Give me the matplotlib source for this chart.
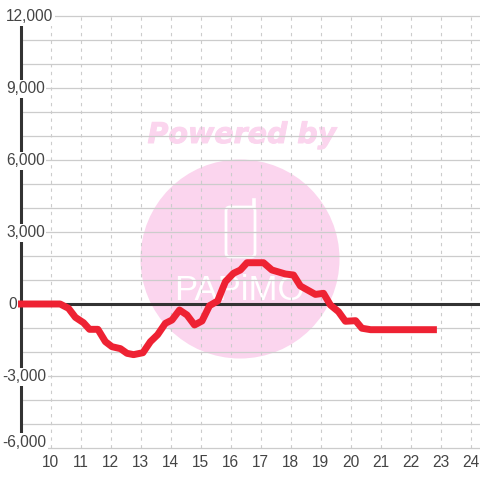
import numpy as np
import matplotlib
matplotlib.use('Agg')
import matplotlib.pyplot as plt
import matplotlib.patheffects as pe
from matplotlib.patches import Circle, FancyBboxPatch
from matplotlib.lines import Line2D
from matplotlib.transforms import blended_transform_factory

plt.rcParams['font.family'] = ['Liberation Sans', 'DejaVu Sans']

# Data
#._____________________

hours = [8.9, 10.32, 10.6, 10.83, 11.1, 11.3, 11.58, 11.83, 12.05, 12.33, 12.55, 12.77, 13.08,
         13.33, 13.57, 13.83, 14.05, 14.3, 14.55, 14.8, 15.05, 15.3, 15.57, 15.83, 16.1, 16.33,
         16.55, 17.1, 17.38, 17.83, 18.1, 18.33, 18.83, 19.1, 19.33, 19.6, 19.83, 20.17, 20.38,
         20.67, 22.88]
values = [0, 0, -180, -556, -780, -1055, -1055, -1570, -1780, -1860, -2055, -2110, -2030,
          -1570, -1280, -805, -667, -250, -458, -875, -708, -70, 125, 930, 1280, 1417,
          1720, 1720, 1417, 1250, 1208, 750, 400, 445, -42, -320, -720, -695, -1010,
          -1070, -1070]

x_ticks = list(range(10, 25))
y_grid = list(range(-6000, 12001, 1000))
y_labels = ['12,000', '9,000', '6,000', '3,000', '0', '-3,000', '-6,000']
y_label_pos = [11960, 8960, 5960, 2960, -40, -3040, -5760]
y_label_left = [6, 6, 6, 6, 8, 2, 2]

# Plot
#._____________________

W = 480
def px(x, y):
    return x / W, 1 - y / W

fig = plt.figure(figsize=(4.8, 4.8), dpi=100, facecolor='white')
ax = fig.add_axes([20.5 / W, 32 / W, 459.5 / W, 432 / W])
ax.set_xlim(9, 9 + 459.5 / 30)
ax.set_ylim(-6000, 12000)
ax.patch.set_alpha(0)

# watermark
pink = '#fbd5ee'
fig.add_artist(Circle(px(240, 259), 99.5 / W, transform=fig.transFigure, color=pink, lw=0, zorder=-3))
fig.text(*px(242, 135), 'Powered by', color=pink, fontsize=20.5, family='DejaVu Sans', weight='bold',
         style='italic', ha='center', va='center', zorder=-3,
         path_effects=[pe.withStroke(linewidth=0.7, foreground=pink)])
fig.add_artist(FancyBboxPatch(px(226, 257), 29 / W, 50 / W, boxstyle=f'round,pad=0,rounding_size={4 / W}',
                              transform=fig.transFigure, fc='none', ec='white', lw=2.0, zorder=-2))
fig.add_artist(Line2D([254.5 / W, 254.5 / W], [1 - 207 / W, 1 - 200 / W], color='white', lw=2.6, zorder=-2))
fig.text(*px(239, 290), 'PAPiMO', color='white', fontsize=25, family='Liberation Sans',
         ha='center', va='center', zorder=-2)

for v in y_grid:
    ax.axhline(v, color='#cccccc', lw=0.9, zorder=1, clip_on=False)
for h in x_ticks:
    ax.axvline(h, color='#cccccc', lw=0.8, ls=(0, (3, 4)), zorder=1)

ax.axhline(0, color='#333333', lw=2.2, zorder=2)
ax.plot(hours, values, color='#ee2233', lw=5, solid_joinstyle='round', solid_capstyle='butt',
        zorder=3, clip_on=False)

for s in ['top', 'right', 'bottom']:
    ax.spines[s].set_visible(False)
ax.spines['left'].set_color('#333333')
ax.spines['left'].set_linewidth(2.2)
ax.spines['left'].set_zorder(2.5)

ax.set_yticks([])
ax.set_xticks(x_ticks)
ax.set_xticklabels([str(h) for h in x_ticks], fontsize=11.2, color='#444444')
ax.tick_params(axis='x', length=0, pad=5)

label_trans = blended_transform_factory(fig.transFigure, ax.transData)
for lab, pos, left in zip(y_labels, y_label_pos, y_label_left):
    ax.text(left / W, pos, lab, transform=label_trans, fontsize=11.2, color='#444444',
            ha='left', va='center', zorder=5, bbox=dict(fc='white', ec='none', pad=1.2), clip_on=False)

fig.savefig('out.png', dpi=100)
